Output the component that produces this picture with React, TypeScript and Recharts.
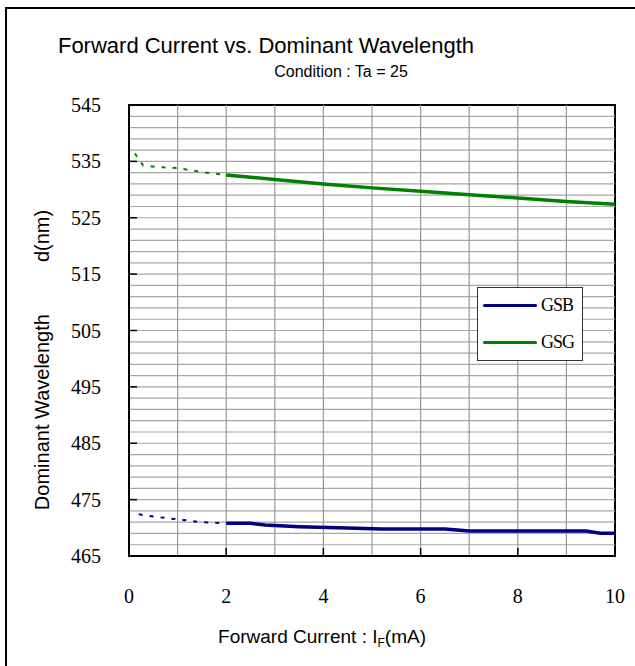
import { LineChart, Line, XAxis, YAxis, ReferenceLine, ReferenceArea, Legend } from 'recharts'

// forward current (mA) vs dominant wavelength (nm)
const GSG_IF = [2, 3, 4, 5, 6, 7, 8, 9, 10]
const GSG_WL = [532.6, 531.8, 531.0, 530.3, 529.7, 529.1, 528.5, 527.9, 527.4]
const GSG_EXT_IF = [0.12, 0.29, 0.56, 1.0, 1.5, 2]
const GSG_EXT_WL = [536.4, 534.3, 534.0, 533.8, 533.1, 532.6]

const GSB_IF = [2, 2.5, 2.8, 3.5, 4.5, 5.2, 6.5, 7, 9.4, 9.7, 10]
const GSB_WL = [470.8, 470.8, 470.5, 470.2, 469.95, 469.8, 469.8, 469.45, 469.45, 469.05, 469.05]
const GSB_EXT_IF = [0.2, 0.5, 1.0, 1.5, 2]
const GSB_EXT_WL = [472.4, 472.0, 471.5, 471.0, 470.8]

const X_TICKS = [0, 2, 4, 6, 8, 10]
const Y_TICKS = [465, 475, 485, 495, 505, 515, 525, 535, 545]
const X_GRID = [1, 2, 3, 4, 5, 6, 7, 8, 9]
const Y_GRID = Array.from({ length: 39 }, (_, i) => 467 + i * 2)

const SERIES = [
  { name: 'GSB', color: '#000080' },
  { name: 'GSG', color: '#008000' },
]

const toPoints = (xs: number[], ys: number[]) => xs.map((x, i) => ({ x, y: ys[i] }))

const SANS = '"Liberation Sans", Arial, sans-serif'
const SERIF = '"Liberation Serif", "Times New Roman", serif'

function XTick({ x, y, payload }: any) {
  return (
    <text x={x} y={y} dy="0.71em" textAnchor="middle" fontFamily={SERIF} fontSize={20} fill="#000">
      {payload.value}
    </text>
  )
}

function YTick({ x, y, payload }: any) {
  return (
    <text x={x} y={y} dy="0.35em" textAnchor="end" fontFamily={SERIF} fontSize={20} fill="#000">
      {payload.value}
    </text>
  )
}

function LegendBox() {
  return (
    <div
      style={{
        width: 106,
        height: 74,
        boxSizing: 'border-box',
        border: '1px solid #333',
        background: '#fff',
        fontFamily: SERIF,
        fontSize: 18,
        letterSpacing: -1,
      }}
    >
      {SERIES.map((s, i) => (
        <div key={s.name} style={{ position: 'absolute', left: 6, top: 8 + i * 37, display: 'flex', alignItems: 'center' }}>
          <div style={{ width: 54, height: 3.5, background: s.color, borderRadius: 2 }} />
          <span style={{ marginLeft: 4, color: '#000' }}>{s.name}</span>
        </div>
      ))}
    </div>
  )
}

export default function App() {
  return (
    <div style={{ position: 'absolute', left: 0, top: 0, width: 635, height: 666, background: '#fff', overflow: 'hidden' }}>
      {/* outer frame, open to the right and bottom like the original */}
      <div style={{ position: 'absolute', left: 5, top: 7, width: 700, height: 700, borderLeft: '2px solid #000', borderTop: '2px solid #000' }} />
      <div style={{ position: 'absolute', left: 266, top: 46, transform: 'translate(-50%,-50%)', fontFamily: SANS, fontSize: 22, whiteSpace: 'nowrap' }}>
        Forward Current vs. Dominant Wavelength
      </div>
      <div style={{ position: 'absolute', left: 341, top: 72, transform: 'translate(-50%,-50%)', fontFamily: SANS, fontSize: 16, whiteSpace: 'nowrap' }}>
        Condition : Ta = 25
      </div>
      <div
        style={{
          position: 'absolute',
          left: 42,
          top: 360,
          transform: 'translate(-50%,-50%) rotate(-90deg)',
          fontFamily: SANS,
          fontSize: 20,
          whiteSpace: 'nowrap',
          display: 'flex',
          gap: 52,
        }}
      >
        <span>Dominant Wavelength</span>
        <span>d(nm)</span>
      </div>
      <div style={{ position: 'absolute', left: 322, top: 638, transform: 'translate(-50%,-50%)', fontFamily: SANS, fontSize: 19, whiteSpace: 'nowrap' }}>
        Forward Current : I<sub style={{ fontSize: 12 }}>F</sub>(mA)
      </div>

      <div style={{ position: 'absolute', left: 0, top: 0 }}>
        <LineChart width={635} height={666} margin={{ top: 105, right: 20, bottom: 60, left: 0 }}>
          {Y_GRID.map((v) => (
            <ReferenceLine key={'h' + v} y={v} stroke="#a6a6a6" strokeWidth={1.2} />
          ))}
          {X_GRID.map((v) => (
            <ReferenceLine key={'v' + v} x={v} stroke="#999" strokeWidth={1.2} />
          ))}
          <XAxis
            type="number"
            dataKey="x"
            domain={[0, 10]}
            ticks={X_TICKS}
            height={50}
            allowDataOverflow
            axisLine={{ stroke: '#000', strokeWidth: 2 }}
            tickLine={{ stroke: '#000', strokeWidth: 1.5 }}
            tickSize={-8}
            tickMargin={41}
            tick={<XTick />}
          />
          <YAxis
            type="number"
            dataKey="y"
            domain={[465, 545]}
            ticks={Y_TICKS}
            width={129}
            allowDataOverflow
            axisLine={{ stroke: '#000', strokeWidth: 2 }}
            tickLine={{ stroke: '#000', strokeWidth: 1.5 }}
            tickSize={-8}
            tickMargin={36}
            tick={<YTick />}
          />
          <ReferenceArea x1={0} x2={10} y1={465} y2={545} fill="none" stroke="#000" strokeWidth={2} ifOverflow="visible" />
          <Line
            data={toPoints(GSB_EXT_IF, GSB_EXT_WL)}
            dataKey="y"
            stroke={SERIES[0].color}
            strokeWidth={2}
            strokeDasharray="4 7"
            dot={false}
            legendType="none"
            isAnimationActive={false}
          />
          <Line
            data={toPoints(GSG_EXT_IF, GSG_EXT_WL)}
            dataKey="y"
            stroke={SERIES[1].color}
            strokeWidth={2}
            strokeDasharray="4 7"
            dot={false}
            legendType="none"
            isAnimationActive={false}
          />
          <Line
            data={toPoints(GSB_IF, GSB_WL)}
            dataKey="y"
            name="GSB"
            stroke={SERIES[0].color}
            strokeWidth={3.5}
            dot={false}
            isAnimationActive={false}
          />
          <Line
            data={toPoints(GSG_IF, GSG_WL)}
            dataKey="y"
            name="GSG"
            stroke={SERIES[1].color}
            strokeWidth={3.5}
            dot={false}
            isAnimationActive={false}
          />
          <Legend
            layout="horizontal"
            verticalAlign="middle"
            align="center"
            wrapperStyle={{ left: 477, top: 287, width: 106, height: 74 }}
            content={() => <LegendBox />}
          />
        </LineChart>
      </div>
    </div>
  )
}
